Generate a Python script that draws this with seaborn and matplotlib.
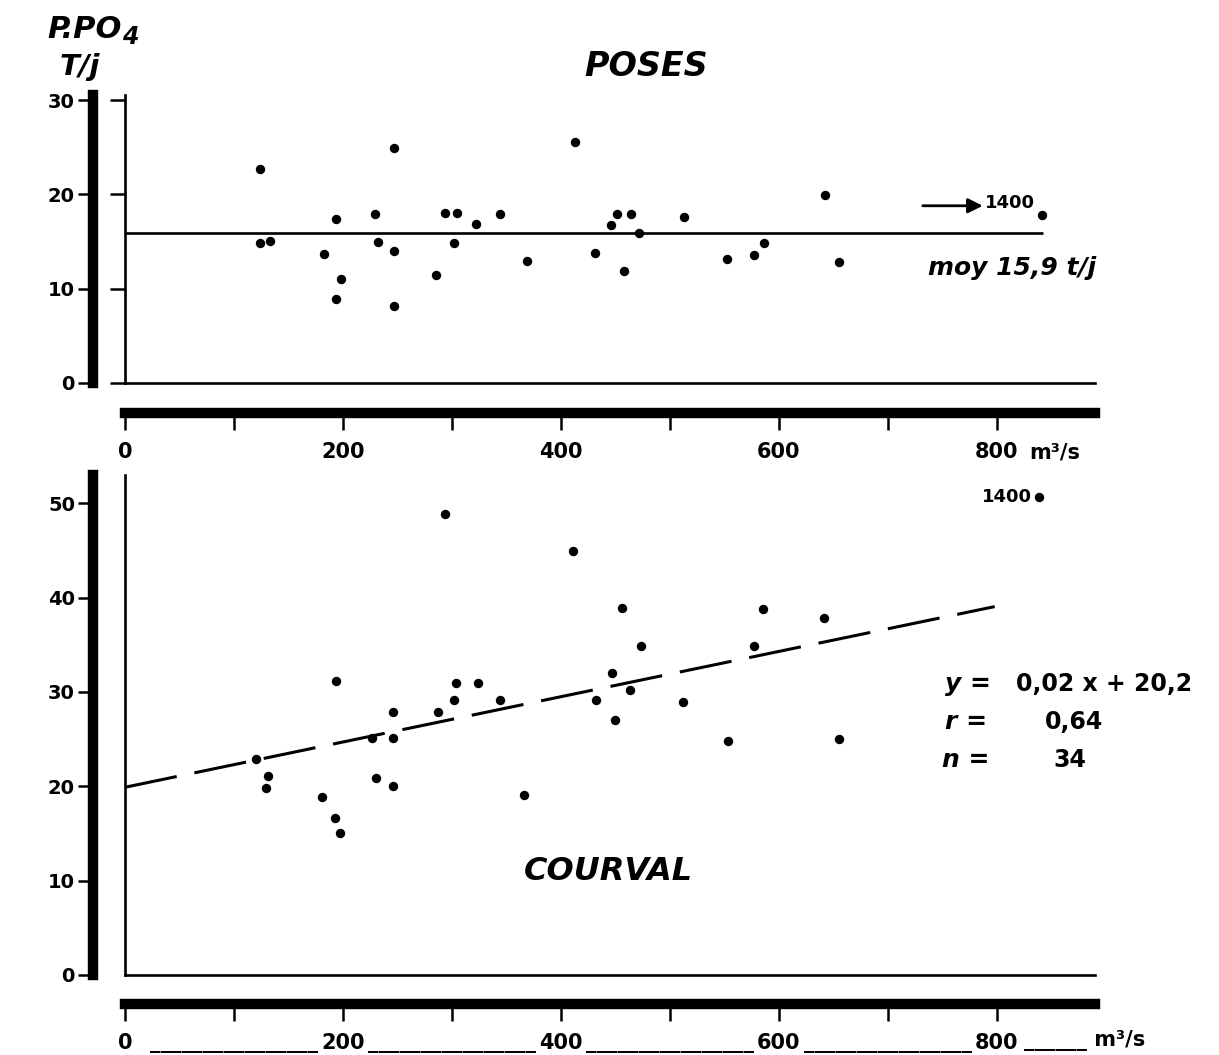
import matplotlib
matplotlib.use("Agg")
import matplotlib.pyplot as plt
import seaborn as sns
import numpy as np
import pandas as pd
from matplotlib.transforms import blended_transform_factory

# ---------------- data ----------------
# POSES : discharge (m3/s) and P-PO4 load (t/j)
poses_q = [124, 124, 133, 183, 194, 194, 198, 229, 232, 247, 247, 247,
           285, 294, 302, 305, 322, 344, 369, 413, 431, 446, 451, 458,
           464, 472, 513, 552, 577, 586, 642, 655]
poses_p = [22.7, 14.9, 15.1, 13.7, 17.4, 8.9, 11.0, 17.9, 15.0, 24.9, 14.0, 8.2,
           11.5, 18.0, 14.9, 18.0, 16.9, 17.9, 12.9, 25.6, 13.8, 16.8, 17.9, 11.9,
           17.9, 15.9, 17.6, 13.2, 13.6, 14.8, 19.9, 12.8]
poses_mean = 15.9
poses_mean_end_q = 842
# off-scale point (Q = 1400 m3/s) drawn at the right edge
poses_out_label = "1400"
poses_out_q_shown = 841
poses_out_p = 17.8

# COURVAL
courval_q = [120, 131, 129, 181, 194, 193, 197, 227, 230, 246, 246, 246,
             287, 294, 302, 304, 324, 344, 366, 411, 432, 447, 450, 456,
             463, 473, 512, 553, 577, 585, 641, 655]
courval_p = [22.9, 21.1, 19.8, 18.9, 31.2, 16.6, 15.0, 25.1, 20.9, 27.9, 25.1, 20.0,
             27.9, 48.9, 29.1, 31.0, 31.0, 29.1, 19.1, 44.9, 29.2, 32.0, 27.0, 38.9,
             30.2, 34.9, 28.9, 24.8, 34.9, 38.8, 37.8, 25.0]
courval_out_label = "1400"
courval_out_q_shown = 839
courval_out_p = 50.7
# regression line as drawn
reg_slope = 0.024
reg_intercept = 19.9
reg_q_range = [0, 798]

x_ticks = [0, 100, 200, 300, 400, 500, 600, 700, 800]
top_x_labels = ["0", "", "200", "", "400", "", "600", "", "800"]
UND = "_" * 16
bottom_x_labels = ["0", UND, "200", UND, "400", UND, "600", UND, "800"]
top_y_ticks = [0, 10, 20, 30]
bottom_y_ticks = [0, 10, 20, 30, 40, 50]

# ---------------- styling ----------------
sns.set_theme(style="white")
INK = "black"
plt.rcParams['font.family'] = ['DejaVu Sans']
plt.rcParams['lines.scale_dashes'] = False
plt.rcParams['text.color'] = INK
plt.rcParams['xtick.color'] = INK
plt.rcParams['ytick.color'] = INK
plt.rcParams['xtick.labelcolor'] = INK
plt.rcParams['ytick.labelcolor'] = INK
plt.rcParams['axes.edgecolor'] = INK

W, H = 1219, 1055
fig = plt.figure(figsize=(W / 100, H / 100), dpi=100)
fig.patch.set_facecolor("white")


def rect(x0, y0, x1, y1):
    return [x0 / W, 1 - y1 / H, (x1 - x0) / W, (y1 - y0) / H]


def fpos(x, y):
    return x / W, 1 - y / H


ax1 = fig.add_axes(rect(125, 95, 1095, 383))
ax2 = fig.add_axes(rect(125, 475, 1095, 975))
ax1.set_xlim(0, 890)
ax2.set_xlim(0, 890)
ax1.set_ylim(0, 30.55)
ax2.set_ylim(0, 53.0)

for ax in (ax1, ax2):
    ax.set_facecolor("white")
    ax.spines[['top', 'right']].set_visible(False)
    ax.spines[['left', 'bottom']].set_linewidth(1.9)
    ax.spines[['left', 'bottom']].set_color(INK)
    ax.set_xticks([])

ax1.set_yticks(top_y_ticks)
ax1.tick_params(axis='y', left=True, direction='out', length=11, width=1.8,
                labelleft=False, color=INK)
ax2.set_yticks([])


# thick outer bars (secondary axes)
def thick_axes(ax, yloc, xloc, yticks, xlabels, xlabelsize):
    sy = ax.secondary_yaxis(yloc)
    sy.spines['left'].set_linewidth(7.5)
    sy.spines['left'].set_color(INK)
    sy.set_yticks(yticks)
    sy.tick_params(axis='y', left=True, direction='out', length=11, width=1.8,
                   pad=2, labelsize=14, color=INK, labelcolor=INK)
    for t in sy.get_yticklabels():
        t.set_fontweight('bold')
    sx = ax.secondary_xaxis(xloc)
    sx.spines['bottom'].set_linewidth(7.5)
    sx.spines['bottom'].set_color(INK)
    sx.set_xticks(x_ticks, xlabels)
    sx.tick_params(axis='x', bottom=True, direction='out', length=12, width=1.8,
                   pad=9, labelsize=xlabelsize, color=INK, labelcolor=INK)
    for t in sx.get_xticklabels():
        t.set_fontweight('bold')
    return sy, sx


thick_axes(ax1, -32 / 970, -30 / 288, top_y_ticks, top_x_labels, 15)
thick_axes(ax2, -32 / 970, -29 / 500, bottom_y_ticks, bottom_x_labels, 15)

MS = 46
# ---------------- POSES ----------------
dfp = pd.DataFrame({"Q": poses_q, "P": poses_p})
sns.scatterplot(data=dfp, x="Q", y="P", ax=ax1, color=INK, s=MS,
                linewidth=0, legend=False)
sns.scatterplot(x=[poses_out_q_shown], y=[poses_out_p], ax=ax1, color=INK,
                s=MS, linewidth=0, legend=False)
ax1.hlines(poses_mean, 0, poses_mean_end_q, color=INK, lw=1.9)
ax1.annotate("", xy=(787, 18.8), xytext=(732, 18.8),
             arrowprops=dict(arrowstyle='-|>', color=INK, lw=2.0,
                             mutation_scale=22, shrinkA=0, shrinkB=0))
ax1.text(789, 19.1, poses_out_label, fontsize=13, fontweight='bold',
         va='center', ha='left', color=INK)
ax1.set_xlabel("")
ax1.set_ylabel("")

# ---------------- COURVAL ----------------
dfc = pd.DataFrame({"Q": courval_q, "P": courval_p})
sns.scatterplot(data=dfc, x="Q", y="P", ax=ax2, color=INK, s=MS,
                linewidth=0, legend=False)
sns.scatterplot(x=[courval_out_q_shown], y=[courval_out_p], ax=ax2, color=INK,
                s=MS, linewidth=0, legend=False)
reg_x = np.array(reg_q_range, dtype=float)
reg_y = reg_intercept + reg_slope * reg_x
ax2.plot(reg_x, reg_y, color=INK, lw=2.2, linestyle=(0, (38, 13)))
ax2.text(832, courval_out_p, courval_out_label, fontsize=13, fontweight='bold',
         va='center', ha='right', color=INK)
ax2.set_xlabel("")
ax2.set_ylabel("")

# unit labels on x axes
tr1 = blended_transform_factory(ax1.transData, ax1.transAxes)
ax1.text(830, -0.24, "m³/s", transform=tr1, fontsize=15, fontweight='bold',
         ha='left', va='center', color=INK)
tr2 = blended_transform_factory(ax2.transData, ax2.transAxes)
ax2.text(825, -0.131, "______ m³/s", transform=tr2, fontsize=15, fontweight='bold',
         ha='left', va='center', color=INK)

# ---------------- texts ----------------
t_ppo = fig.text(*fpos(47, 30), "P.PO", fontsize=22, fontweight='bold', style='italic',
                 ha='left', va='center', color=INK)
fig.text(*fpos(60, 67), "T/j", fontsize=21, fontweight='bold', style='italic',
         ha='left', va='center', color=INK)
fig.canvas.draw()
bb = t_ppo.get_window_extent()
fig.text(bb.x1 / W + 1 / W, bb.y0 / H - 4 / H, "4", fontsize=17, fontweight='bold',
         style='italic', ha='left', va='bottom', color=INK)

fig.text(*fpos(646, 66), "POSES", fontsize=24, fontweight='bold', style='italic',
         ha='center', va='center', color=INK)
fig.text(*fpos(928, 268), "moy 15,9 t/j", fontsize=18, fontweight='bold',
         style='italic', ha='left', va='center', color=INK)
fig.text(*fpos(608, 872), "COURVAL", fontsize=23, fontweight='bold', style='italic',
         ha='center', va='center', color=INK)

fig.text(*fpos(945, 684), "y =", fontsize=18, fontweight='bold', style='italic',
         ha='left', va='center', color=INK)
fig.text(*fpos(1016, 684), "0,02 x + 20,2", fontsize=17, fontweight='bold',
         ha='left', va='center', color=INK)
fig.text(*fpos(945, 722), "r =", fontsize=18, fontweight='bold', style='italic',
         ha='left', va='center', color=INK)
fig.text(*fpos(1045, 722), "0,64", fontsize=17, fontweight='bold',
         ha='left', va='center', color=INK)
fig.text(*fpos(942, 760), "n =", fontsize=18, fontweight='bold', style='italic',
         ha='left', va='center', color=INK)
fig.text(*fpos(1053, 760), "34", fontsize=17, fontweight='bold',
         ha='left', va='center', color=INK)

fig.savefig("out.png", dpi=100, facecolor="white")
